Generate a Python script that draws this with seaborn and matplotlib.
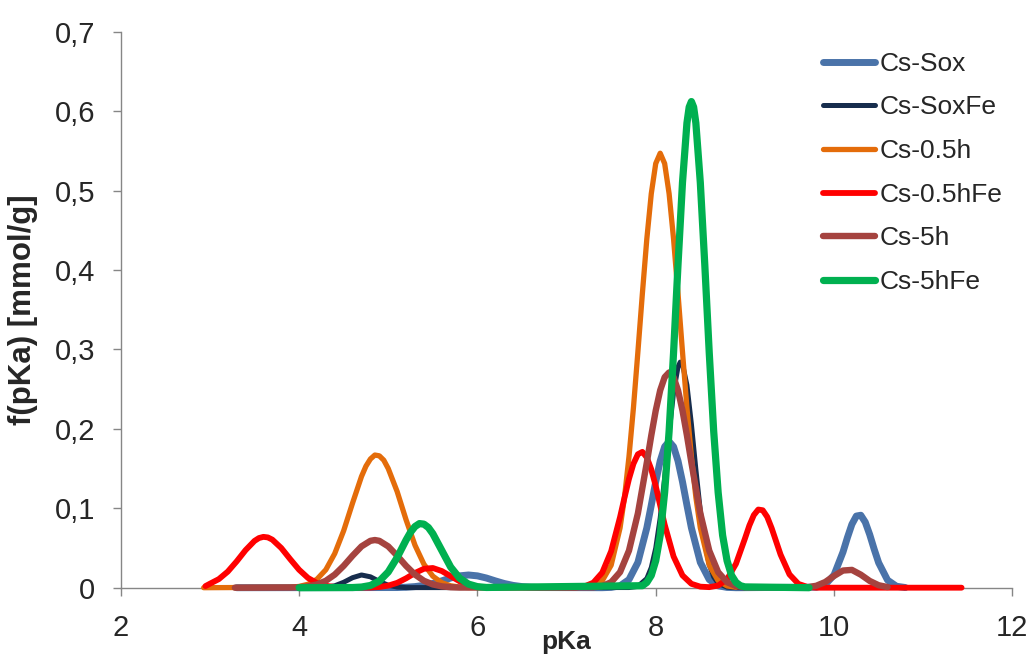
import matplotlib
matplotlib.use("Agg")
import matplotlib.pyplot as plt
import seaborn as sns

# values (pKa, f(pKa) in mmol/g)
sox_x = [3.3, 5.1, 5.2, 5.3, 5.4, 5.5, 5.6, 5.7, 5.8, 5.9, 6.0, 6.1, 6.2, 6.3, 6.4, 6.5, 6.6, 6.7,
         7.4, 7.5, 7.6, 7.7, 7.8, 7.9, 7.95, 8.0, 8.05, 8.1, 8.15, 8.2, 8.25, 8.3, 8.35, 8.4,
         8.5, 8.6, 8.7, 8.8, 8.9,
         9.8, 9.9, 10.0, 10.1, 10.15, 10.2, 10.25, 10.3, 10.35, 10.4, 10.45, 10.5, 10.6, 10.7, 10.8]
sox_y = [0, 0.0002, 0.0006, 0.0014, 0.0029, 0.0053, 0.0086, 0.0122, 0.0149, 0.016, 0.0149, 0.0122,
         0.0086, 0.0053, 0.0029, 0.0014, 0.0006, 0.0002,
         0, 0.0004, 0.0024, 0.0102, 0.0319, 0.0753, 0.1038, 0.1334, 0.1595, 0.1775, 0.184,
         0.1775, 0.1595, 0.1334, 0.1038, 0.0753, 0.0319, 0.0102, 0.0024, 0.0004, 0,
         0.0006, 0.0037, 0.0161, 0.0448, 0.0632, 0.0798, 0.0902, 0.0912, 0.0825, 0.0668,
         0.0484, 0.0314, 0.0095, 0.0018, 0.0002]

soxfe_x = [4.0, 4.2, 4.3, 4.4, 4.5, 4.6, 4.7, 4.8, 4.9, 5.0, 5.1, 5.2,
           7.7, 7.8, 7.9, 7.95, 8.0, 8.05, 8.1, 8.15, 8.2, 8.25, 8.275, 8.3, 8.35, 8.4, 8.45,
           8.5, 8.55, 8.6, 8.65, 8.7, 8.8, 8.9, 9.0]
soxfe_y = [0, 0.0001, 0.0006, 0.0024, 0.0068, 0.0126, 0.016, 0.0137, 0.0079, 0.0031, 0.0008,
           0.0001,
           0.0002, 0.0017, 0.0115, 0.0253, 0.0498, 0.0877, 0.138, 0.195, 0.246, 0.278, 0.284,
           0.2815, 0.255, 0.206, 0.149, 0.0968, 0.0562, 0.0292, 0.0136, 0.0056, 0.0007, 0.0001, 0]

h05_x = [2.93, 3.9, 4.0, 4.1, 4.2, 4.3, 4.4, 4.5, 4.6, 4.7, 4.75, 4.8, 4.85, 4.9, 4.95, 5.0,
         5.1, 5.2, 5.3, 5.4, 5.5, 5.6, 5.7, 5.8, 5.9,
         7.2, 7.3, 7.4, 7.5, 7.6, 7.65, 7.7, 7.75, 7.8, 7.85, 7.9, 7.95, 8.0, 8.05, 8.1, 8.15,
         8.2, 8.25, 8.3, 8.35, 8.4, 8.45, 8.5, 8.6, 8.7, 8.8, 8.9]
h05_y = [0, 0.0005, 0.0016, 0.0043, 0.0106, 0.0226, 0.043, 0.0717, 0.1066, 0.14, 0.153, 0.162,
         0.167, 0.166, 0.1605, 0.15, 0.121, 0.0855, 0.0535, 0.0296, 0.0145, 0.0063, 0.0024,
         0.0008, 0.0002,
         0.0005, 0.0022, 0.0087, 0.0283, 0.0753, 0.114, 0.165, 0.2265, 0.297, 0.37, 0.439,
         0.496, 0.534, 0.547, 0.534, 0.496, 0.439, 0.37, 0.297, 0.2265, 0.165, 0.114, 0.0753,
         0.0283, 0.0087, 0.0022, 0.0005]

h05fe_x = [2.95, 3.0, 3.1, 3.2, 3.3, 3.4, 3.5, 3.55, 3.6, 3.65, 3.7, 3.8, 3.9, 4.0, 4.1, 4.2,
           4.3, 4.4, 4.5,
           4.8, 4.9, 5.0, 5.1, 5.2, 5.3, 5.4, 5.5, 5.6, 5.7, 5.8, 5.9, 6.0, 6.1,
           7.1, 7.2, 7.3, 7.4, 7.5, 7.6, 7.65, 7.7, 7.75, 7.8, 7.85, 7.9, 7.95, 8.0, 8.05,
           8.1, 8.2, 8.3, 8.4, 8.5, 8.6,
           8.7, 8.8, 8.9, 9.0, 9.05, 9.1, 9.15, 9.2, 9.25, 9.3, 9.4, 9.5, 9.6, 9.7, 9.8, 11.43]
h05fe_y = [0.002, 0.005, 0.0108, 0.0202, 0.0331, 0.0473, 0.0589, 0.0625, 0.064, 0.0633, 0.0605,
           0.05, 0.036, 0.0226, 0.0123, 0.0059, 0.0024, 0.0009, 0.0003,
           0.0002, 0.0009, 0.0026, 0.0061, 0.0118, 0.0185, 0.0238, 0.0248, 0.021, 0.0145,
           0.0081, 0.0037, 0.0014, 0.0004,
           0.0003, 0.0016, 0.0063, 0.019, 0.046, 0.089, 0.1136, 0.137, 0.156, 0.168, 0.171,
           0.164, 0.149, 0.128, 0.1037, 0.0795, 0.0393, 0.0155, 0.0049, 0.0013, 0.0007,
           0.0027, 0.0106, 0.0301, 0.0617, 0.0783, 0.0914, 0.0984, 0.0975, 0.0892, 0.075,
           0.0417, 0.0167, 0.0048, 0.001, 0, 0]

h5_x = [3.28, 3.9, 4.0, 4.1, 4.2, 4.3, 4.4, 4.5, 4.6, 4.7, 4.8, 4.85, 4.9, 5.0, 5.1, 5.2, 5.3,
        5.4, 5.5, 5.6, 5.7, 5.8,
        7.3, 7.4, 7.5, 7.6, 7.7, 7.8, 7.9, 7.95, 8.0, 8.05, 8.1, 8.15, 8.2, 8.25, 8.3, 8.35,
        8.4, 8.5, 8.6, 8.7, 8.8, 8.9, 9.0,
        9.7, 9.8, 9.9, 10.0, 10.1, 10.2, 10.3, 10.4, 10.5, 10.6]
h5_y = [0, 0.0002, 0.0006, 0.0017, 0.0041, 0.0087, 0.0165, 0.0275, 0.0403, 0.052, 0.059, 0.06,
        0.059, 0.052, 0.0403, 0.0275, 0.0165, 0.0087, 0.0041, 0.0017, 0.0006, 0.0002,
        0.0005, 0.0021, 0.0069, 0.0196, 0.0467, 0.0936, 0.1575, 0.1916, 0.223, 0.2485, 0.265,
        0.271, 0.265, 0.2485, 0.223, 0.1916, 0.1575, 0.0936, 0.0467, 0.0196, 0.0069, 0.0021,
        0.0005,
        0.0006, 0.0024, 0.0071, 0.0148, 0.0216, 0.0224, 0.0164, 0.0085, 0.0031, 0.0008]

h5fe_x = [4.0, 4.6, 4.7, 4.8, 4.9, 5.0, 5.1, 5.2, 5.25, 5.3, 5.35, 5.4, 5.45, 5.5, 5.6, 5.7,
          5.8, 5.9, 6.0, 6.1,
          7.85, 7.9, 7.95, 8.0, 8.05, 8.1, 8.15, 8.2, 8.25, 8.3, 8.35, 8.375, 8.4, 8.425, 8.45,
          8.5, 8.55, 8.6, 8.65, 8.7, 8.75, 8.8, 8.85, 8.9, 8.95, 9.0, 9.72]
h5fe_y = [0, 0.0002, 0.0008, 0.0028, 0.0083, 0.0198, 0.038, 0.06, 0.0698, 0.077, 0.0807, 0.08,
          0.0758, 0.068, 0.047, 0.026, 0.012, 0.0045, 0.0013, 0.0003,
          0.0025, 0.0066, 0.0155, 0.034, 0.066, 0.12, 0.197, 0.296, 0.407, 0.51, 0.585, 0.605,
          0.612, 0.605, 0.585, 0.51, 0.407, 0.296, 0.197, 0.12, 0.066, 0.034, 0.0155, 0.0066,
          0.0025, 0.001, 0]

names = ["Cs-Sox", "Cs-SoxFe", "Cs-0.5h", "Cs-0.5hFe", "Cs-5h", "Cs-5hFe"]
xs = [sox_x, soxfe_x, h05_x, h05fe_x, h5_x, h5fe_x]
ys = [sox_y, soxfe_y, h05_y, h05fe_y, h5_y, h5fe_y]
colors = ["#4A73A9", "#172D4D", "#E46C0A", "#FF0000", "#A5433F", "#00B050"]
widths = [5.0, 3.6, 3.8, 4.2, 4.6, 5.2]

x_ticks = [2, 4, 6, 8, 10, 12]
y_ticks = [0, 0.1, 0.2, 0.3, 0.4, 0.5, 0.6, 0.7]
y_ticklabels = ["0", "0,1", "0,2", "0,3", "0,4", "0,5", "0,6", "0,7"]

sns.set_style("ticks")
plt.rcParams["font.family"] = ["Liberation Sans", "DejaVu Sans"]

fig = plt.figure(figsize=(10.32, 6.61), dpi=100)
ax = fig.add_axes([0.117, 0.1109, 0.864, 0.8412])

for name, x, y, c, lw in zip(names, xs, ys, colors, widths):
    sns.lineplot(x=x, y=y, ax=ax, color=c, linewidth=lw, label=name,
                 sort=False, estimator=None, solid_capstyle="round",
                 solid_joinstyle="round", clip_on=False, zorder=3)

ax.set_xlim(2, 12)
ax.set_ylim(0, 0.7)
ax.set_xticks(x_ticks)
ax.set_xticklabels([str(t) for t in x_ticks])
ax.set_yticks(y_ticks)
ax.set_yticklabels(y_ticklabels)

sns.despine(ax=ax)
for side in ["left", "bottom"]:
    ax.spines[side].set_color("#868686")
    ax.spines[side].set_linewidth(1.0)
ax.tick_params(direction="out", length=6, width=1, color="#868686", labelsize=21)
ax.tick_params(axis="x", pad=13)
ax.tick_params(axis="y", pad=12.5)

ax.set_xlabel("pKa", fontsize=19, fontweight="bold")
ax.xaxis.set_label_coords(0.5, -0.076)
ax.set_ylabel("f(pKa) [mmol/g]", fontsize=22.5, fontweight="bold")
ax.yaxis.set_label_coords(-0.0925, 0.5)

ax.legend(loc="upper left", bbox_to_anchor=(0.797, 0.9216), bbox_transform=fig.transFigure,
          frameon=False, fontsize=19, handlelength=2.0, handletextpad=0.15,
          labelspacing=0.745, borderpad=0, borderaxespad=0)

fig.savefig("out.png", dpi=100)
